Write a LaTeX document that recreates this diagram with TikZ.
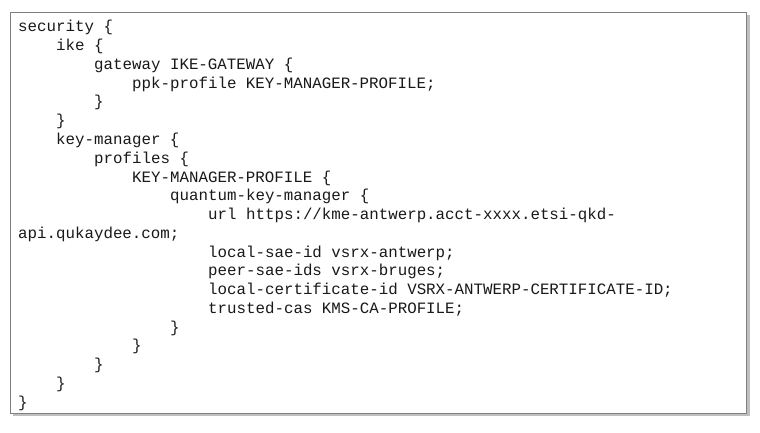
\documentclass[tikz,border=0pt]{standalone}
\usepackage{fontspec}
\setmonofont{Liberation Mono}
\begin{document}
\begin{tikzpicture}[x=1pt,y=1pt,
  codeline/.style={anchor=base west,inner sep=0pt,font=\ttfamily\fontsize{15.8}{18}\selectfont,text=black!90}]
\useasboundingbox (0,0) rectangle (760,432);
\fill[black!25] (13,16) rectangle (750,417);
\node[draw=black!50,fill=white,line width=0.8pt,minimum width=736,minimum height=401,anchor=north west,inner sep=0pt] (box) at (10,420) {};
\foreach \ind/\txt [count=\i from 0] in {
 0/{security \{},
 4/{ike \{},
 8/{gateway IKE-GATEWAY \{},
 12/{ppk-profile KEY-MANAGER-PROFILE;},
 8/{\}},
 4/{\}},
 4/{key-manager \{},
 8/{profiles \{},
 12/{KEY-MANAGER-PROFILE \{},
 16/{quantum-key-manager \{},
 20/{url https://kme-antwerp.acct-xxxx.etsi-qkd-},
 0/{api.qukaydee.com;},
 20/{local-sae-id vsrx-antwerp;},
 20/{peer-sae-ids vsrx-bruges;},
 20/{local-certificate-id VSRX-ANTWERP-CERTIFICATE-ID;},
 20/{trusted-cas KMS-CA-PROFILE;},
 16/{\}},
 12/{\}},
 8/{\}},
 4/{\}},
 0/{\}}}
 \node[codeline] (l\i) at ({18+9.5*\ind},{432-32-18.75*\i}) {\txt};
\end{tikzpicture}
\end{document}
